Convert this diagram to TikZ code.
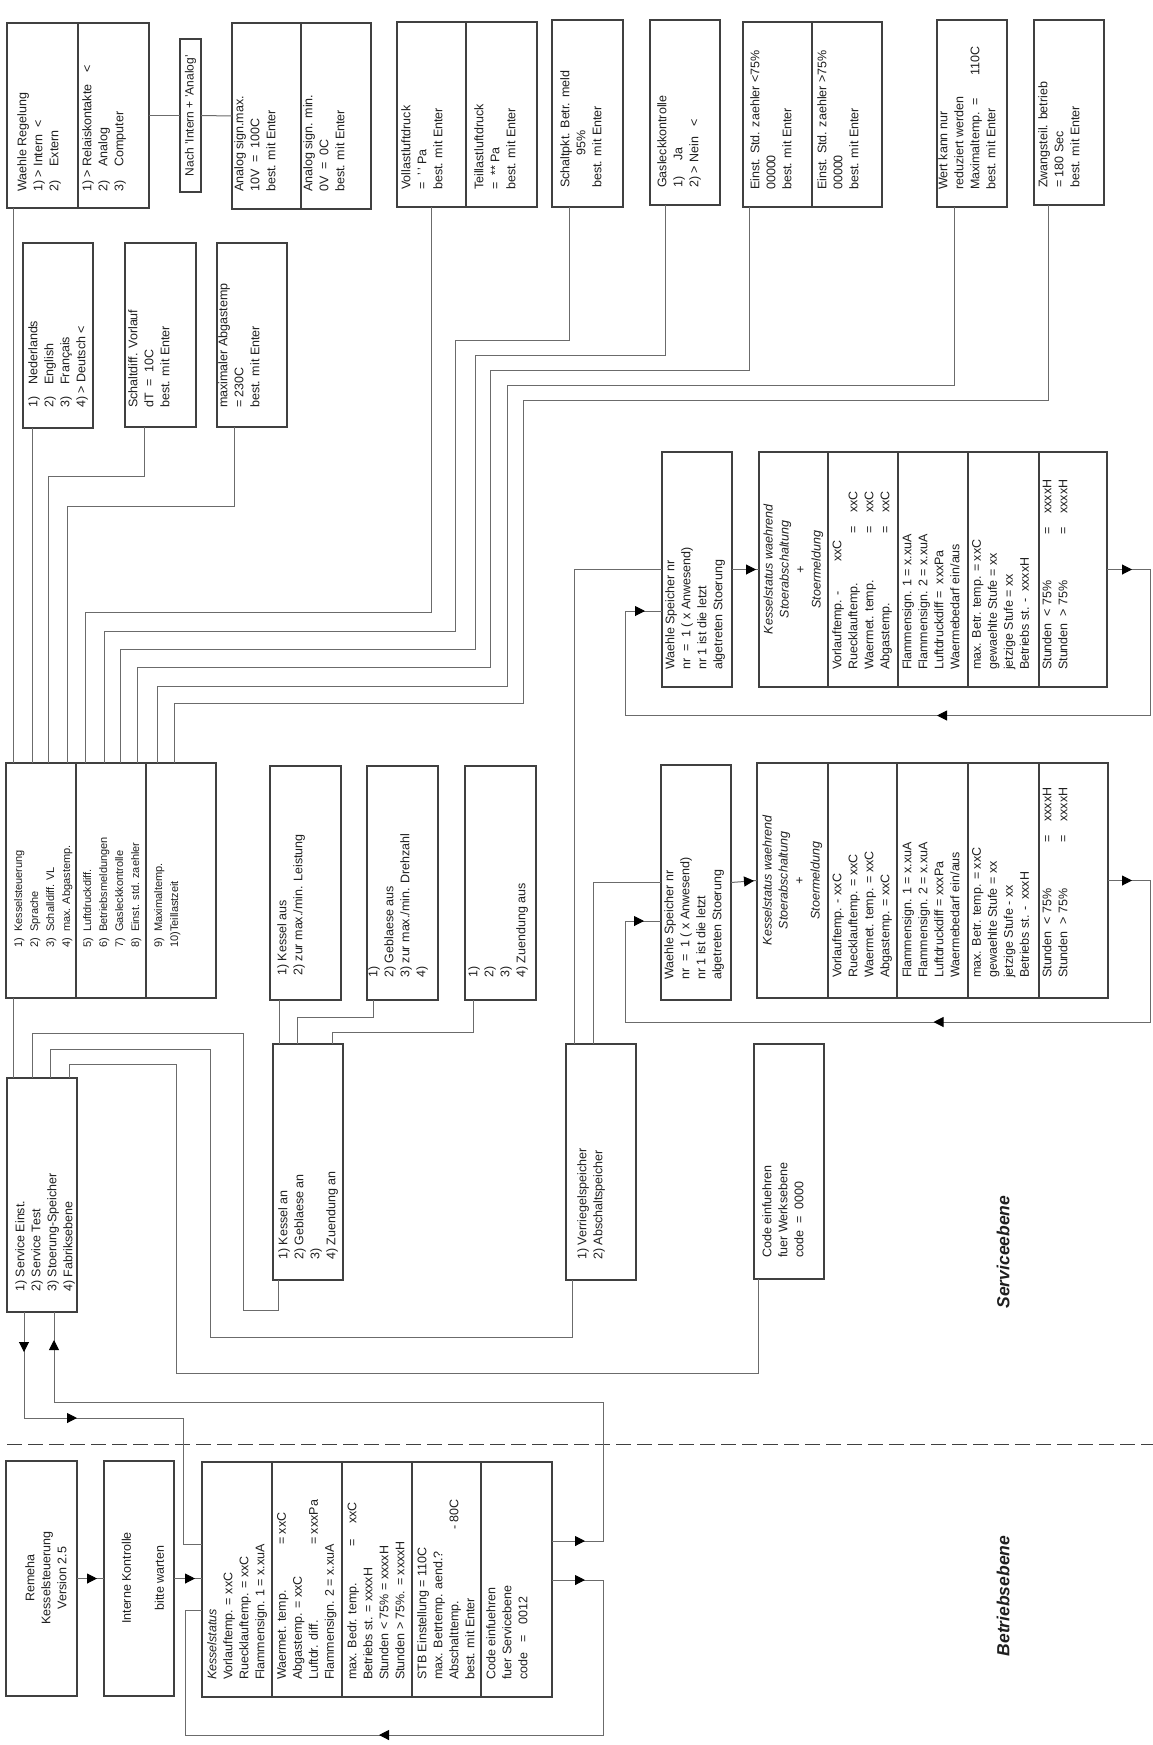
\documentclass[tikz,border=0pt]{standalone}
\usepackage{fontspec}
\setmainfont{Liberation Sans}
\usetikzlibrary{arrows.meta,decorations.markings}

\definecolor{boxline}{gray}{0.25}
\definecolor{wireline}{gray}{0.42}
\definecolor{ink}{gray}{0.12}

\tikzset{
  frame/.style={draw=boxline, line width=1.2pt, inner sep=0pt, outer sep=0pt},
  wire/.style={draw=wireline, line width=1pt},
  txt/.style={rotate=90, anchor=north west, align=left, inner sep=0pt, text=ink,
    font=\fontsize{12.5}{16}\selectfont},
  ctxt/.style={rotate=90, anchor=center, align=center, inner sep=0pt, text=ink,
    font=\fontsize{12.5}{16}\selectfont},
  lvl/.style={rotate=90, inner sep=0pt, text=ink,
    font=\fontsize{17.5}{20}\selectfont\bfseries\itshape},
  tipat/.style={postaction={decorate, decoration={markings,
    mark=at position #1 with {\arrow{Triangle[length=10pt,width=10pt,color=black]}}}}},
}

\begin{document}
\begin{tikzpicture}[x=1pt,y=-1pt]
\useasboundingbox (0,0) rectangle (1153,1745);
\fill[white] (0,0) rectangle (1153,1745);

% top row of setting screens
\node[frame, minimum width=142, minimum height=185]
(wr)
at (78,115.5)
{};
\draw[frame] ([xshift=71]wr.north west) -- ([xshift=71]wr.south west);
\node[txt]
(wrt1)
at (17,192)
{Waehle Regelung\\1) > Intern\ \ <\\2)\phantom{>}\ \ Extern};
\node[txt]
(wrt2)
at (82,192)
{1) > Relaiskontakte\hspace{12pt}<\\2)\phantom{>}\ \ Analog\\3)\phantom{>}\ \ Computer};

\node[frame, minimum width=21, minimum height=153]
(nach)
at (190.5,115.5)
{};
\node[ctxt, font=\fontsize{12}{14}\selectfont]
(nacht)
at (nach.center)
{Nach 'Intern + 'Analog'};

\node[frame, minimum width=139, minimum height=186]
(ana)
at (301.5,116)
{};
\draw[frame] ([xshift=69]ana.north west) -- ([xshift=69]ana.south west);
\node[txt]
(anat1)
at (234,192)
{Analog sign.max.\\10V\ \ =\ \ 100C\\best. mit Enter};
\node[txt]
(anat2)
at (303,192)
{Analog sign. min.\\0V\ \ =\ \ 0C\\best. mit Enter};

\node[frame, minimum width=140, minimum height=185]
(voll)
at (467,114.5)
{};
\draw[frame] ([xshift=69]voll.north west) -- ([xshift=69]voll.south west);
\node[txt]
(vollt1)
at (401,190)
{Vollastluftdruck\\=\ \ '\,' Pa\\best. mit Enter};
\node[txt]
(vollt2)
at (474,190)
{Teillastluftdruck\\=\ \ ** Pa\\best. mit Enter};

\node[frame, minimum width=71, minimum height=187]
(sp)
at (587.5,113.5)
{};
\node[txt]
(spt)
at (560,188)
{Schaltpkt. Betr. meld\\\hspace*{32pt}95\%\\best. mit Enter};

\node[frame, minimum width=70, minimum height=185]
(gl)
at (685,112.5)
{};
\node[txt]
(glt)
at (657,188)
{Gasleckkontrolle\\1)\hspace{16pt}Ja\\2) > Nein\ \ \ <};

\node[frame, minimum width=139, minimum height=185]
(es)
at (812.5,114.5)
{};
\draw[frame] ([xshift=69]es.north west) -- ([xshift=69]es.south west);
\node[txt]
(est1)
at (750,190)
{Einst. Std. zaehler <75\%\\00000\\best. mit Enter};
\node[txt]
(est2)
at (817,190)
{Einst. Std. zaehler >75\%\\00000\\best. mit Enter};

\node[frame, minimum width=70, minimum height=187]
(wk)
at (972,113.5)
{};
\node[txt]
(wkt)
at (938,190)
{Wert kann nur\\reduziert werden\\\makebox[114pt][l]{Maximaltemp.\ \ =}110C\\best. mit Enter};

\node[frame, minimum width=70, minimum height=185]
(zw)
at (1069,112.5)
{};
\node[txt]
(zwt)
at (1038,188)
{Zwangsteil. betrieb\\= 180 Sec\\best. mit Enter};

% second row
\node[frame, minimum width=70, minimum height=185]
(nl)
at (58,335.5)
{};
\node[txt]
(nlt)
at (28,408)
{1)\hspace{12pt}Nederlands\\2)\hspace{12pt}English\\3)\hspace{12pt}Français\\4) > Deutsch <};

\node[frame, minimum width=71, minimum height=184]
(sd)
at (160.5,335)
{};
\node[txt]
(sdt)
at (128,408)
{Schaltdiff. Vorlauf\\dT\ \ =\ \ 10C\\best. mit Enter};

\node[frame, minimum width=70, minimum height=184]
(ma)
at (252,335)
{};
\node[txt]
(mat)
at (218,408)
{maximaler Abgastemp\\= 230C\\best. mit Enter};

% service menu
\node[frame, minimum width=210, minimum height=235]
(ks)
at (111,880.5)
{};
\draw[frame] ([xshift=70]ks.north west) -- ([xshift=70]ks.south west);
\draw[frame] ([xshift=140]ks.north west) -- ([xshift=140]ks.south west);
\node[txt, font=\fontsize{11}{16}\selectfont]
(kst1)
at (14,948)
{1)\ \ Kesselsteuerung\\2)\ \ Sprache\\3)\ \ Schalldiff. VL\\4)\ \ max. Abgastemp.};
\node[txt, font=\fontsize{11}{16}\selectfont]
(kst2)
at (83,948)
{5)\ \ Luftdruckdiff.\\6)\ \ Betriebsmeldungen\\7)\ \ Gasleckkontrolle\\8)\ \ Einst. std. zaehler};
\node[txt, font=\fontsize{11}{16}\selectfont]
(kst3)
at (154,948)
{9)\ \ Maximaltemp.\\10)Teillastzeit};

\node[frame, minimum width=70, minimum height=234]
(sv)
at (42,1195)
{};
\node[txt]
(svt)
at (15,1292)
{1) Service Einst.\\2) Service Test\\3) Stoerung-Speicher\\4) Fabriksebene};

% service test
\node[frame, minimum width=71, minimum height=234]
(ka)
at (305.5,883)
{};
\node[txt]
(kat)
at (277,976)
{1) Kessel aus\\2) zur max./min. Leistung};

\node[frame, minimum width=71, minimum height=234]
(gb)
at (402.5,883)
{};
\node[txt]
(gbt)
at (368,978)
{1)\\2) Geblaese aus\\3) zur max./min. Drehzahl\\4)};

\node[frame, minimum width=71, minimum height=234]
(za)
at (500.5,883)
{};
\node[txt]
(zat)
at (468,978)
{1)\\2)\\3)\\4) Zuendung aus};

\node[frame, minimum width=70, minimum height=236]
(kan)
at (308,1162)
{};
\node[txt]
(kant)
at (278,1260)
{1) Kessel an\\2) Geblaese an\\3)\\4) Zuendung an};

\node[frame, minimum width=70, minimum height=236]
(vs)
at (601,1162)
{};
\node[txt]
(vst)
at (577,1260)
{1) Verriegelspeicher\\2) Abschaltspeicher};

\node[frame, minimum width=70, minimum height=235]
(cw)
at (789,1161.5)
{};
\node[txt]
(cwt)
at (762,1258)
{Code einfuehren\\fuer Werksebene\\code\ \ =\ \ 0000};

% fault memory
\node[frame, minimum width=70, minimum height=235]
(ws1)
at (697,569.5)
{};
\node[txt]
(ws1t)
at (665,670)
{Waehle Speicher nr\\nr\ \ =\ \ 1 ( x Anwesend)\\nr 1 ist die letzt\\algetreten Stoerung};

\node[frame, minimum width=348, minimum height=235]
(kw1)
at (933,569.5)
{};
\draw[frame] ([xshift=69]kw1.north west) -- ([xshift=69]kw1.south west);
\draw[frame] ([xshift=139]kw1.north west) -- ([xshift=139]kw1.south west);
\draw[frame] ([xshift=209]kw1.north west) -- ([xshift=209]kw1.south west);
\draw[frame] ([xshift=280]kw1.north west) -- ([xshift=280]kw1.south west);
\node[ctxt, font=\fontsize{12.5}{16}\selectfont\itshape]
(kw1t1)
at (793.5,569.5)
{Kesselstatus waehrend\\Stoerabschaltung\\+\\Stoermeldung};
\node[txt]
(kw1t2)
at (832,670)
{\makebox[108pt][l]{Vorlauftemp. -}xxC\\\makebox[136pt][l]{Ruecklauftemp.}=\hspace{14pt}xxC\\\makebox[136pt][l]{Waermet. temp.}=\hspace{14pt}xxC\\\makebox[136pt][l]{Abgastemp.}=\hspace{14pt}xxC};
\node[txt]
(kw1t3)
at (902,670)
{Flammensign. 1 = x.xuA\\Flammensign. 2 = x.xuA\\Luftdruckdiff =\ \ xxxPa\\Waermebedarf ein/aus};
\node[txt]
(kw1t4)
at (972,670)
{max. Betr. temp. = xxC\\gewaehlte Stufe = xx\\jetzige Stufe = xx\\Betriebs st. -\ \ xxxxH};
\node[txt]
(kw1t5)
at (1042,670)
{\makebox[135pt][l]{Stunden\ \ < 75\%}=\hspace{14pt}xxxxH\\\makebox[135pt][l]{Stunden\ \ > 75\%}=\hspace{14pt}xxxxH};

\node[frame, minimum width=70, minimum height=235]
(ws2)
at (696,882.5)
{};
\node[txt]
(ws2t)
at (664,980)
{Waehle Speicher nr\\nr\ \ =\ \ 1 ( x Anwesend)\\nr 1 ist die letzt\\algetreten Stoerung};

\node[frame, minimum width=351, minimum height=235]
(kw2)
at (932.5,880.5)
{};
\draw[frame] ([xshift=71]kw2.north west) -- ([xshift=71]kw2.south west);
\draw[frame] ([xshift=140]kw2.north west) -- ([xshift=140]kw2.south west);
\draw[frame] ([xshift=211]kw2.north west) -- ([xshift=211]kw2.south west);
\draw[frame] ([xshift=282]kw2.north west) -- ([xshift=282]kw2.south west);
\node[ctxt, font=\fontsize{12.5}{16}\selectfont\itshape]
(kw2t1)
at (792.5,880.5)
{Kesselstatus waehrend\\Stoerabschaltung\\+\\Stoermeldung};
\node[txt]
(kw2t2)
at (832,978)
{Vorlauftemp. - xxC\\Ruecklauftemp. = xxC\\Waermet. temp. = xxC\\Abgastemp. = xxC};
\node[txt]
(kw2t3)
at (902,978)
{Flammensign. 1 = x.xuA\\Flammensign. 2 = x.xuA\\Luftdruckdiff = xxxPa\\Waermebedarf ein/aus};
\node[txt]
(kw2t4)
at (972,978)
{max. Betr. temp. = xxC\\gewaehlte Stufe = xx\\jetzige Stufe - xx\\Betriebs st. -\ \ xxxH};
\node[txt]
(kw2t5)
at (1042,978)
{\makebox[135pt][l]{Stunden\ \ < 75\%}=\hspace{14pt}xxxxH\\\makebox[135pt][l]{Stunden\ \ > 75\%}=\hspace{14pt}xxxxH};

% operating level
\node[frame, minimum width=71, minimum height=235]
(rm)
at (41.5,1578.5)
{};
\node[ctxt]
(rmt)
at (46,1578)
{Remeha\\Kesselsteuerung\\Version 2.5};

\node[frame, minimum width=70, minimum height=235]
(ik)
at (139,1578.5)
{};
\node[ctxt]
(ikt)
at (143,1578)
{Interne Kontrolle\\[17pt]bitte warten};

\node[frame, minimum width=350, minimum height=235]
(kb)
at (377,1579.5)
{};
\draw[frame] ([xshift=70]kb.north west) -- ([xshift=70]kb.south west);
\draw[frame] ([xshift=140]kb.north west) -- ([xshift=140]kb.south west);
\draw[frame] ([xshift=210]kb.north west) -- ([xshift=210]kb.south west);
\draw[frame] ([xshift=279]kb.north west) -- ([xshift=279]kb.south west);
\node[txt]
(kbt1)
at (207,1680)
{\textit{Kesselstatus}\\Vorlauftemp. = xxC\\Ruecklauftemp. = xxC\\Flammensign. 1 = x.xuA};
\node[txt]
(kbt2)
at (277,1680)
{\makebox[135pt][l]{Waermet. temp.}= xxC\\Abgastemp. = xxC\\\makebox[135pt][l]{Luftdr. diff.}= xxxPa\\Flammensign. 2 = x.xuA};
\node[txt]
(kbt3)
at (347,1680)
{\makebox[133pt][l]{max. Bedr. temp.}=\hspace{16pt}xxC\\Betriebs st. = xxxxH\\Stunden < 75\% = xxxxH\\Stunden > 75\%. = xxxxH};
\node[txt]
(kbt4)
at (417,1680)
{STB Einstellung = 110C\\max. Betrtemp. aend.?\\\makebox[150pt][l]{Abschalttemp.}- 80C\\best. mit Enter};
\node[txt]
(kbt5)
at (486,1680)
{Code einfuehren\\fuer Servicebene\\code\ \ \ =\ \ \ 0012};

% level names and border
\node[lvl]
(lserv)
at (1003,1252)
{Serviceebene};
\node[lvl]
(lbetr)
at (1003,1596)
{Betriebsebene};
\draw[boxline, line width=1pt, dash pattern=on 15pt off 6pt] (7,1444) -- (1153,1444);

% connectors service settings
\draw[wire] (wr.east) -- (nach.west);
\draw[wire] (nach.east) -- (ana.west);
\draw[wire] ([xshift=7]ks.north west) -- ([xshift=6]wr.south west);
\draw[wire] ([xshift=26]ks.north west) -- ([xshift=9]nl.south west);
\draw[wire] ([xshift=42]ks.north west) -- ++(0,-287) -| ([xshift=19]sd.south west);
\draw[wire] ([xshift=61]ks.north west) -- ++(0,-257) -| ([xshift=17]ma.south west);
\draw[wire] ([xshift=79]ks.north west) -- ++(0,-151) -| ([xshift=34]voll.south west);
\draw[wire] ([xshift=98]ks.north west) -- ++(0,-132) -- ++(351,0) -- ++(0,-291) -| ([xshift=17]sp.south west);
\draw[wire] ([xshift=114]ks.north west) -- ++(0,-114) -- ++(355,0) -- ++(0,-294) -| ([xshift=15]gl.south west);
\draw[wire] ([xshift=131]ks.north west) -- ++(0,-96) -- ++(353,0) -- ++(0,-297) -| ([xshift=6]es.south west);
\draw[wire] ([xshift=151]ks.north west) -- ++(0,-77) -- ++(350,0) -- ++(0,-301) -| ([xshift=17]wk.south west);
\draw[wire] ([xshift=168]ks.north west) -- ++(0,-60) -- ++(349,0) -- ++(0,-303) -| ([xshift=14]zw.south west);
\draw[wire] ([xshift=7]ks.south west) -- ([xshift=6]sv.north west);

% connectors service test and memory
\draw[wire] ([xshift=25]sv.north west) -- ++(0,-45) -- ++(211,0) -- ++(0,277) -| ([xshift=5]kan.south west);
\draw[wire] ([xshift=43]sv.north west) -- ++(0,-29) -- ++(160,0) -- ++(0,288) -| ([xshift=6]vs.south west);
\draw[wire] ([xshift=62]sv.north west) -- ++(0,-14) -- ++(107,0) -- ++(0,309) -| ([xshift=4]cw.south west);
\draw[wire] ([xshift=6]kan.north west) -- ([xshift=9]ka.south west);
\draw[wire] ([xshift=24]kan.north west) -- ++(0,-27) -| ([xshift=6]gb.south west);
\draw[wire] ([xshift=59]kan.north west) -- ++(0,-12) -| ([xshift=8]za.south west);
\draw[wire] ([xshift=8]vs.north west) |- (ws1.west);
\draw[wire] ([xshift=27]vs.north west) |- (ws2.west);
\draw[wire, tipat=-3pt] (ws1.east) -- (kw1.west);
\draw[wire, tipat=-3pt] (ws2.east) -- (kw2.west);
\draw[wire, tipat=25pt, tipat=402pt, tipat=-17pt] (kw1.east) -- ++(43,0) -- ++(0,146) -- ++(-525,0) |- ([yshift=-41.5]ws1.west);
\draw[wire, tipat=24pt, tipat=400pt, tipat=-17pt] (kw2.east) -- ++(42,0) -- ++(0,141.5) -- ++(-525,0) |- ([yshift=-38.5]ws2.west);

% connectors operating level
\draw[wire, tipat=-7pt] (rm.east) -- (ik.west);
\draw[wire, tipat=-7pt] (ik.east) -- (ik.east -| kb.west);
\draw[wire, tipat=40pt, tipat=159pt] ([xshift=17]sv.south west) -- ++(0,106) -- ++(159,0) |- ([yshift=35.5]kb.west);
\draw[wire, tipat=33pt, tipat=-28pt] ([yshift=38.5]kb.east) -- ++(51,0) -- ++(0,-139) -| ([xshift=47]sv.south west);
\draw[wire, tipat=33pt, tipat=430pt] ([yshift=-0.5]kb.east) -- ++(51,0) -- ++(0,155) -- ++(-418,0) |- ([yshift=-30.5]kb.west);

\end{tikzpicture}
\end{document}
